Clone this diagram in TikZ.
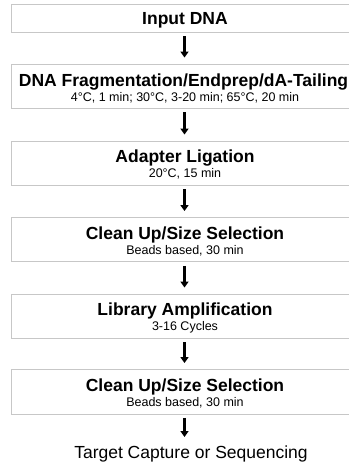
\documentclass[tikz,border=0pt]{standalone}
\usepackage{fontspec}
\setmainfont{Liberation Sans}
\usetikzlibrary{arrows.meta,calc}
\tikzset{
  stepbox/.style={draw=black!22, line width=0.9pt, fill=white, rectangle,
    minimum width=348pt, minimum height=44pt, inner sep=0pt},
  ttl/.style={anchor=base, inner sep=0pt, font=\bfseries\fontsize{17.5}{20}\selectfont},
  sub/.style={anchor=base, inner sep=0pt, font=\fontsize{12.5}{14}\selectfont},
  arr/.style={line width=2.2pt, black, -{Triangle[length=6pt,width=8pt]},
    shorten <=4pt, shorten >=6pt},
}
\begin{document}
\begin{tikzpicture}[x=1pt,y=-1pt]
\useasboundingbox (0,0) rectangle (348,462);
\fill[white] (0,0) rectangle (348,462);
% boxes
\node[stepbox, minimum height=28pt] (b1) at (185,18) {};
\node[stepbox] (b2) at (185,86) {};
\node[stepbox] (b3) at (185,163) {};
\node[stepbox] (b4) at (185,239.5) {};
\node[stepbox] (b5) at (185,316) {};
\node[stepbox, minimum height=45pt] (b6) at (185,392) {};
% texts
\node[ttl] (t1) at ($(b1.north)+(0,21)$) {Input DNA};
\node[ttl] (t2) at ($(b2.north)+(-1.5,23)$) {DNA Fragmentation/Endprep/dA-Tailing};
\node[sub] (s2) at ($(b2.north)+(0,38)$) {4°C, 1 min; 30°C, 3-20 min; 65°C, 20 min};
\node[ttl] (t3) at ($(b3.north)+(0,22)$) {Adapter Ligation};
\node[sub] (s3) at ($(b3.north)+(0,37)$) {20°C, 15 min};
\node[ttl] (t4) at ($(b4.north)+(0,22)$) {Clean Up/Size Selection};
\node[sub] (s4) at ($(b4.north)+(0,37)$) {Beads based, 30 min};
\node[ttl] (t5) at ($(b5.north)+(0,22)$) {Library Amplification};
\node[sub] (s5) at ($(b5.north)+(0,37)$) {3-16 Cycles};
\node[ttl] (t6) at ($(b6.north)+(0,22)$) {Clean Up/Size Selection};
\node[sub] (s6) at ($(b6.north)+(0,37)$) {Beads based, 30 min};
\node[anchor=base, inner sep=0pt, font=\fontsize{17.5}{20}\selectfont] (out) at (191,458) {Target Capture or Sequencing};
\coordinate (oute) at (184.5,437);
% arrows
\draw[arr] (b1.south -| 184.5,0) -- (b2.north -| 184.5,0);
\draw[arr] (b2.south -| 184.5,0) -- (b3.north -| 184.5,0);
\draw[arr] (b3.south -| 184.5,0) -- (b4.north -| 184.5,0);
\draw[arr] (b4.south -| 184.5,0) -- (b5.north -| 184.5,0);
\draw[arr] (b5.south -| 184.5,0) -- (b6.north -| 184.5,0);
\draw[arr, shorten >=0pt, shorten <=3pt] (b6.south -| 184.5,0) -- (oute);
\end{tikzpicture}
\end{document}
